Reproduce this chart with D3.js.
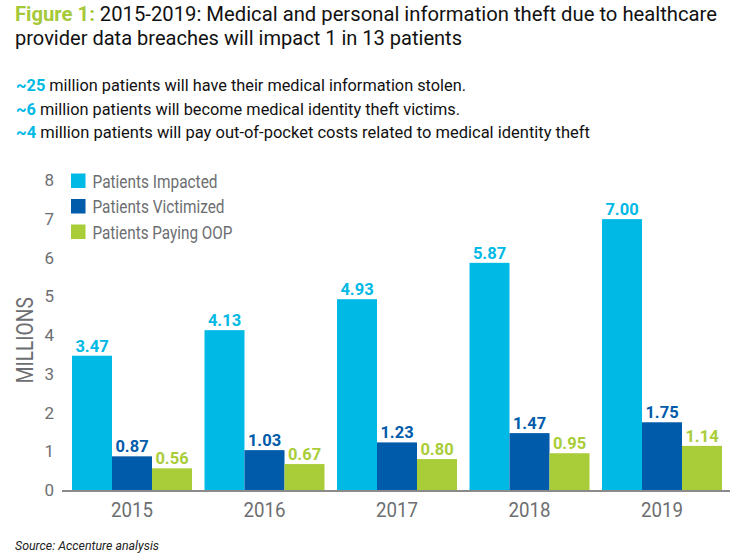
<!DOCTYPE html>
<html>
<head>
<meta charset="utf-8">
<script src="https://cdn.jsdelivr.net/npm/d3@7"></script>
<style>
  body { margin: 0; background: #fff; }
  svg { display: block; font-family: Roboto, 'Open Sans', sans-serif; }
</style>
</head>
<body>
<div id="chart"></div>
<script>
const years = ['2015', '2016', '2017', '2018', '2019'];
const seriesNames = ['Patients Impacted', 'Patients Victimized', 'Patients Paying OOP'];
const impacted = [3.47, 4.13, 4.93, 5.87, 7.00];
const victimized = [0.87, 1.03, 1.23, 1.47, 1.75];
const payingOOP = [0.56, 0.67, 0.80, 0.95, 1.14];
const yTicks = [0, 1, 2, 3, 4, 5, 6, 7, 8];

const titleLines = [
  ['Figure 1:', ' 2015-2019: Medical and personal information theft due to healthcare'],
  ['', 'provider data breaches will impact 1 in 13 patients'],
];
const bullets = [
  ['~25', ' million patients will have their medical information stolen.'],
  ['~6', ' million patients will become medical identity theft victims.'],
  ['~4', ' million patients will pay out-of-pocket costs related to medical identity theft'],
];

const colors = ['#00b9e5', '#005baa', '#a9cd38'];
const grey = '#6d6e71';
const seriesValues = [impacted, victimized, payingOOP];

const W = 736;
const H = 559;

const svg = d3
  .select('#chart')
  .append('svg')
  .attr('width', W)
  .attr('height', H);

// squeeze text to a measured width (the original face is condensed)
const fit = (sel, width) => sel.attr('textLength', width).attr('lengthAdjust', 'spacingAndGlyphs');

// title
const titleWidths = [702, 447];
titleLines.forEach((parts, i) => {
  const t = svg
    .append('text')
    .attr('x', 15)
    .attr('y', 20.5 + i * 24)
    .attr('font-size', 20.5)
    .attr('fill', '#111');
  if (parts[0]) {
    t.append('tspan').attr('fill', '#a6c93a').attr('font-weight', 'bold').text(parts[0]);
  }
  t.append('tspan').text(parts[1]);
  fit(t, titleWidths[i]);
});

// bullet lines
const bulletWidths = [450, 444, 574];
bullets.forEach((parts, i) => {
  const t = svg
    .append('text')
    .attr('x', 16)
    .attr('y', 91 + i * 23.6)
    .attr('font-size', 16.5)
    .attr('fill', '#111');
  t.append('tspan').attr('fill', colors[0]).attr('font-weight', 'bold').text(parts[0]);
  t.append('tspan').text(parts[1]);
  fit(t, bulletWidths[i]);
});

// scales
const x0 = d3
  .scaleBand()
  .domain(years)
  .range([65.75, 728.25])
  .paddingInner(12.5 / 132.5)
  .paddingOuter(6.25 / 132.5);

const x1 = d3.scaleBand().domain(seriesNames).range([0, x0.bandwidth()]);

const y = d3.scaleLinear().domain([0, 8]).range([490, 180.4]);

// y axis
const yAxis = svg
  .append('g')
  .attr('transform', 'translate(58,0)')
  .call(d3.axisLeft(y).tickValues(yTicks).tickSize(0).tickPadding(4));
yAxis.select('.domain').remove();
yAxis
  .selectAll('text')
  .attr('font-family', 'Roboto, sans-serif')
  .attr('font-size', 17)
  .attr('fill', grey);

svg
  .append('text')
  .attr('transform', `translate(33,${y(4) + 5}) rotate(-90)`)
  .attr('text-anchor', 'middle')
  .attr('font-size', 23)
  .attr('fill', grey)
  .text('MILLIONS')
  .call(fit, 86);

// bars
const groups = svg
  .selectAll('.year')
  .data(years)
  .join('g')
  .attr('class', 'year')
  .attr('transform', d => `translate(${x0(d)},0)`);

groups
  .selectAll('rect')
  .data((d, i) => seriesNames.map((s, j) => ({series: s, idx: j, value: seriesValues[j][i]})))
  .join('rect')
  .attr('x', d => x1(d.series))
  .attr('y', d => y(d.value))
  .attr('width', x1.bandwidth())
  .attr('height', d => y(0) - y(d.value))
  .attr('fill', d => colors[d.idx]);

groups
  .selectAll('.val')
  .data((d, i) => seriesNames.map((s, j) => ({series: s, idx: j, value: seriesValues[j][i]})))
  .join('text')
  .attr('class', 'val')
  .attr('x', d => x1(d.series) + x1.bandwidth() / 2)
  .attr('y', d => y(d.value) - 4)
  .attr('text-anchor', 'middle')
  .attr('font-size', 16.5)
  .attr('font-weight', 'bold')
  .attr('fill', d => colors[d.idx])
  .text(d => d.value.toFixed(2));

// x axis
const xAxis = svg
  .append('g')
  .attr('transform', `translate(0,${y(0)})`)
  .call(d3.axisBottom(x0).tickSize(0).tickPadding(12.5));
xAxis.select('.domain').remove();
xAxis
  .selectAll('text')
  .attr('font-family', 'Roboto, sans-serif')
  .attr('font-size', 20.5)
  .attr('fill', grey)
  .call(fit, 42);

svg
  .append('line')
  .attr('x1', 62)
  .attr('x2', 730)
  .attr('y1', y(0) + 1)
  .attr('y2', y(0) + 1)
  .attr('stroke', '#8a8a8a')
  .attr('stroke-width', 2);

// legend
const legendWidths = [125, 132, 140];
const legend = svg
  .selectAll('.legend')
  .data(seriesNames)
  .join('g')
  .attr('class', 'legend')
  .attr('transform', (d, i) => `translate(71,${173.5 + i * 25.5})`);

legend
  .append('rect')
  .attr('width', 14.5)
  .attr('height', 14.5)
  .attr('fill', (d, i) => colors[i]);

legend
  .append('text')
  .attr('x', 21.5)
  .attr('y', 14)
  .attr('font-size', 17.5)
  .attr('fill', grey)
  .text(d => d)
  .each(function (d, i) {
    fit(d3.select(this), legendWidths[i]);
  });

// source
svg
  .append('text')
  .attr('x', 15)
  .attr('y', 549.5)
  .attr('font-size', 13)
  .attr('font-style', 'italic')
  .attr('fill', '#222')
  .text('Source: Accenture analysis')
  .call(fit, 144);
</script>
</body>
</html>
